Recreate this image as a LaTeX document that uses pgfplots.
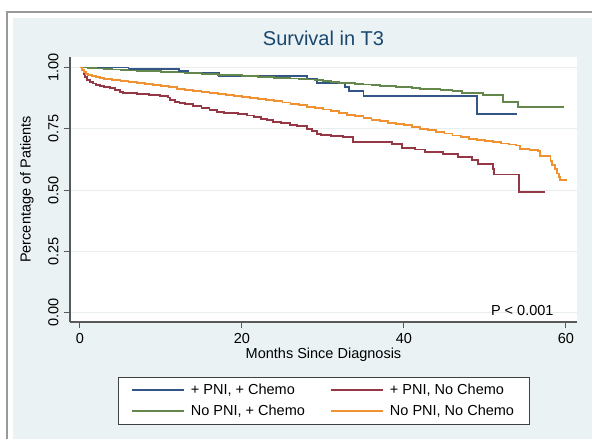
\documentclass[border=0pt]{standalone}
\usepackage{fontspec}
\setmainfont{Liberation Sans}
\usepackage{pgfplots}
\pgfplotsset{compat=1.18}

\definecolor{bgblue}{RGB}{234,242,243}
\definecolor{dknavy}{RGB}{26,71,111}
\definecolor{gridc}{RGB}{232,238,240}
\definecolor{kmblue}{RGB}{52,86,135}
\definecolor{kmred}{RGB}{150,55,70}
\definecolor{kmgreen}{RGB}{100,135,75}
\definecolor{kmorange}{RGB}{240,145,50}
\newcommand{\lab}{\fontsize{14.5}{17}\selectfont}

\begin{document}
\begin{tikzpicture}[x=1pt,y=1pt]
  % canvas: 592 x 439 px, plot box lower-left at (70,322) px
  \useasboundingbox (-70,-117) rectangle (522,322);
  \fill[white] (-70,-117) rectangle (522,322);
  \draw[black!40, line width=1.5] (-63,-125) -- (-63,310) -- (530,310);
  \fill[bgblue] (-57,-125) rectangle (530,304);
  \fill[white] (0,0) rectangle (507,265);
  \begin{axis}[
      at={(0pt,0pt)}, anchor=south west,
      scale only axis, width=507pt, height=265pt,
      xmin=-1.23, xmax=61.36, ymin=-0.038, ymax=1.043,
      axis lines=left,
      axis line style={-, black!65, line width=1.3pt},
      xtick={0,20,40,60},
      ytick={0,0.25,0.5,0.75,1},
      yticklabels={0.00,0.25,0.50,0.75,1.00},
      tick align=outside, major tick length=6pt,
      tick style={black!65, line width=1pt},
      ymajorgrids, grid style={gridc, line width=0.9pt},
      /pgf/number format/assume math mode=true,
      tick label style={font=\lab},
      yticklabel style={rotate=90, anchor=south},
      yticklabel shift=2pt,
      xticklabel style={yshift=-2pt},
      xlabel={Months Since Diagnosis},
      xlabel style={font=\lab, at={(axis description cs:0.5,-0.1245)}, anchor=center},
      ylabel={Percentage of Patients},
      ylabel style={font=\lab, at={(axis description cs:-0.085,0.5)}, anchor=center},
      title={Survival in T3},
      title style={font=\fontsize{20}{24}\selectfont, color=dknavy,
                   at={(axis description cs:0.5,1.047)}, anchor=center},
      legend columns=2,
      legend cell align=left,
      legend image code/.code={\draw[#1, line width=2pt] (0pt,0pt) -- (52pt,0pt);},
      legend style={at={(axis description cs:0.5,-0.2075)}, anchor=north,
                    draw=black!75, line width=0.8pt, fill=white, font=\lab,
                    row sep=5pt, inner xsep=13pt, inner ysep=5pt,
                    /tikz/every even column/.append style={column sep=23pt}},
      km/.style={line width=1.8pt, const plot},
    ]
    % + PNI, + Chemo
    \addplot[km, kmblue] coordinates {
      (0,1.000) (6.0,0.993) (12.2,0.987) (13.3,0.980) (17.2,0.967)
      (28.0,0.953) (29.3,0.938) (32.7,0.920) (33.2,0.904) (35.0,0.885)
      (49.0,0.810) (54.0,0.810)
    };
    \addlegendentry{\hspace{4pt}+ PNI, + Chemo}
    % + PNI, No Chemo
    \addplot[km, kmred] coordinates {
      (0,1.000) (0.3,0.990) (0.5,0.975) (0.6,0.962) (0.9,0.950) (1.2,0.942)
      (1.6,0.935) (2.0,0.930) (2.5,0.926) (3.0,0.921) (3.7,0.915) (4.3,0.908)
      (4.9,0.901) (5.3,0.895) (7.0,0.892) (8.5,0.888) (9.9,0.884) (10.9,0.878)
      (11.1,0.867) (11.7,0.861) (12.3,0.856) (13.0,0.850) (14.0,0.843)
      (15.0,0.835) (16.0,0.827) (16.9,0.820) (17.8,0.816) (18.5,0.813)
      (19.5,0.809) (20.6,0.804) (21.5,0.797) (22.3,0.791) (23.1,0.786)
      (23.8,0.779) (24.8,0.773) (25.9,0.766) (26.8,0.760) (28.0,0.749)
      (28.6,0.741) (29.3,0.730) (29.8,0.725) (31.0,0.722) (32.5,0.718)
      (33.7,0.697) (38.5,0.688) (39.8,0.673) (41.4,0.666) (42.6,0.657)
      (44.8,0.647) (46.7,0.636) (48.4,0.623) (49.1,0.606) (51.0,0.585)
      (51.1,0.564) (54.2,0.491) (57.4,0.491)
    };
    \addlegendentry{\hspace{4pt}+ PNI, No Chemo}
    % No PNI, + Chemo
    \addplot[km, kmgreen] coordinates {
      (0,1.000) (1,0.998) (2,0.996) (3,0.994) (4,0.992) (5,0.990) (6,0.988)
      (7,0.987) (8,0.986) (9,0.985) (10,0.983) (11,0.982) (12,0.980)
      (13,0.978) (14,0.977) (15,0.975) (16,0.973) (17,0.971) (18,0.969)
      (19,0.968) (20,0.966) (21,0.964) (22,0.962) (23,0.960) (24,0.958)
      (25,0.957) (26,0.955) (27,0.953) (28,0.951) (29,0.948) (30,0.945)
      (31,0.941) (32,0.938) (33,0.936) (34,0.933) (35,0.931) (36,0.928)
      (37,0.926) (38,0.924) (39,0.921) (40,0.919) (41,0.916) (42,0.913)
      (43,0.911) (44.5,0.909) (46,0.904) (47.2,0.897) (49.8,0.887)
      (52.2,0.860) (54.1,0.839) (59.8,0.839)
    };
    \addlegendentry{\hspace{4pt}No PNI, + Chemo}
    % No PNI, No Chemo
    \addplot[km, kmorange] coordinates {
      (0,1.000) (0.25,0.990) (0.5,0.982) (0.75,0.975) (1,0.970) (1.5,0.964)
      (2,0.960) (2.5,0.956) (3,0.953) (4,0.948) (5,0.944) (6,0.940) (7,0.936)
      (8,0.932) (9,0.929) (10,0.924) (11,0.919) (12,0.914) (13,0.909)
      (14,0.905) (15,0.901) (16,0.896) (17,0.892) (18,0.888) (19,0.884)
      (20,0.880) (21,0.876) (22,0.871) (23,0.866) (24,0.862) (25,0.857)
      (26,0.852) (27,0.846) (28,0.840) (29,0.834) (30,0.829) (31,0.822)
      (32,0.815) (33,0.808) (34,0.801) (35,0.794) (36,0.787) (37,0.781)
      (38,0.775) (39,0.770) (40,0.764) (41,0.756) (42,0.750) (43,0.744)
      (44,0.738) (45,0.731) (46,0.723) (47,0.716) (48,0.710) (49,0.705)
      (50,0.700) (51,0.695) (52,0.690) (53,0.686) (53.8,0.682) (54.3,0.667)
      (55.5,0.663) (56.5,0.659) (56.8,0.640) (57.8,0.638) (58.1,0.620)
      (58.3,0.602) (58.6,0.585) (58.9,0.568) (59.1,0.555) (59.3,0.541)
      (60.1,0.541)
    };
    \addlegendentry{\hspace{4pt}No PNI, No Chemo}
    \node[anchor=east, font=\lab] at (axis description cs:0.9606,0.045) {P < 0.001};
  \end{axis}
\end{tikzpicture}
\end{document}
